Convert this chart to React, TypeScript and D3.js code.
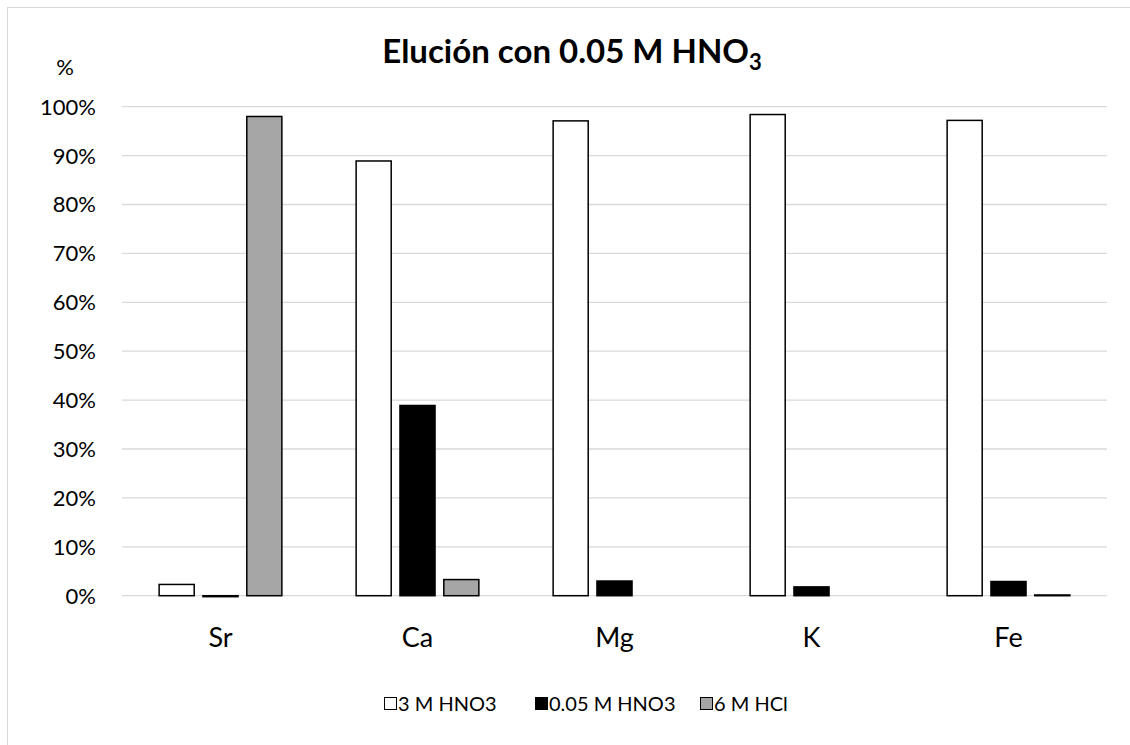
import React from "react";
import * as d3 from "d3";

const categories = ["Sr", "Ca", "Mg", "K", "Fe"];
const seriesNames = ["3 M HNO3", "0.05 M HNO3", "6 M HCl"];
const series3MHNO3: (number | null)[] = [2.3, 88.9, 97.1, 98.4, 97.2];
const series005MHNO3: (number | null)[] = [-0.2, 38.9, 3.0, 1.8, 2.9];
const series6MHCl: (number | null)[] = [98.0, 3.3, null, null, 0.15];
const yTicks = [0, 10, 20, 30, 40, 50, 60, 70, 80, 90, 100];

const fills = ["#ffffff", "#000000", "#a6a6a6"];
const FONT = "Lato, 'Open Sans', sans-serif";

export default function App() {
  const W = 1130, H = 745;
  const left = 122, right = 1107, top = 106.7, bottom = 595.7;
  const x = d3.scaleBand<string>().domain(categories).range([left, right]).paddingInner(0.377).paddingOuter(0.1885);
  const xi = d3.scaleBand<string>().domain(seriesNames).range([0, x.bandwidth()]).paddingInner(0.2).paddingOuter(0);
  const y = d3.scaleLinear().domain([0, 100]).range([bottom, top]);
  const all = [series3MHNO3, series005MHNO3, series6MHCl];

  const legendItems = [
    { x: 384, name: seriesNames[0] },
    { x: 535, name: seriesNames[1] },
    { x: 700, name: seriesNames[2] },
  ];

  return (
    <svg width={W} height={H} style={{ position: "absolute", left: 0, top: 0, background: "#fff" }} fontFamily={FONT}>
      <rect x={0} y={0} width={W} height={H} fill="#fff" />
      <rect x={7.5} y={7.5} width={W + 20} height={H + 20} fill="none" stroke="#d9d9d9" strokeWidth={1} />
      {yTicks.map((t) => (
        <g key={t}>
          <line x1={left} x2={right} y1={y(t)} y2={y(t)} stroke="#d9d9d9" strokeWidth={1.3} />
          <text x={96} y={y(t)} dy="0.36em" textAnchor="end" fontSize={22} fill="#000">{t}%</text>
        </g>
      ))}
      <text x={65} y={67} dy="0.36em" textAnchor="middle" fontSize={22}>%</text>
      <text x={572} y={63} textAnchor="middle" fontSize={33} fontWeight="bold">
        Elución con 0.05 M HNO<tspan fontSize={22} dy={7}>3</tspan>
      </text>
      {categories.map((c, ci) => (
        <g key={c}>
          {all.map((s, si) => {
            const v = s[ci];
            if (v === null) return null;
            const bx = (x(c) as number) + (xi(seriesNames[si]) as number);
            const y0 = y(Math.max(0, v));
            const h = Math.abs(y(v) - y(0));
            return (
              <rect key={si} x={bx} y={y0} width={xi.bandwidth()} height={h}
                fill={fills[si]} stroke="#000" strokeWidth={1.5} />
            );
          })}
          <text x={(x(c) as number) + x.bandwidth() / 2} y={637} dy="0.36em" textAnchor="middle" fontSize={27}>{c}</text>
        </g>
      ))}
      {legendItems.map((l, i) => (
        <g key={l.name}>
          <rect x={l.x + 0.5} y={697.5} width={12} height={12} fill={fills[i]} stroke="#000" strokeWidth={1} />
          <text x={l.x + 14} y={703.5} dy="0.36em" fontSize={20}>{l.name}</text>
        </g>
      ))}
    </svg>
  );
}
